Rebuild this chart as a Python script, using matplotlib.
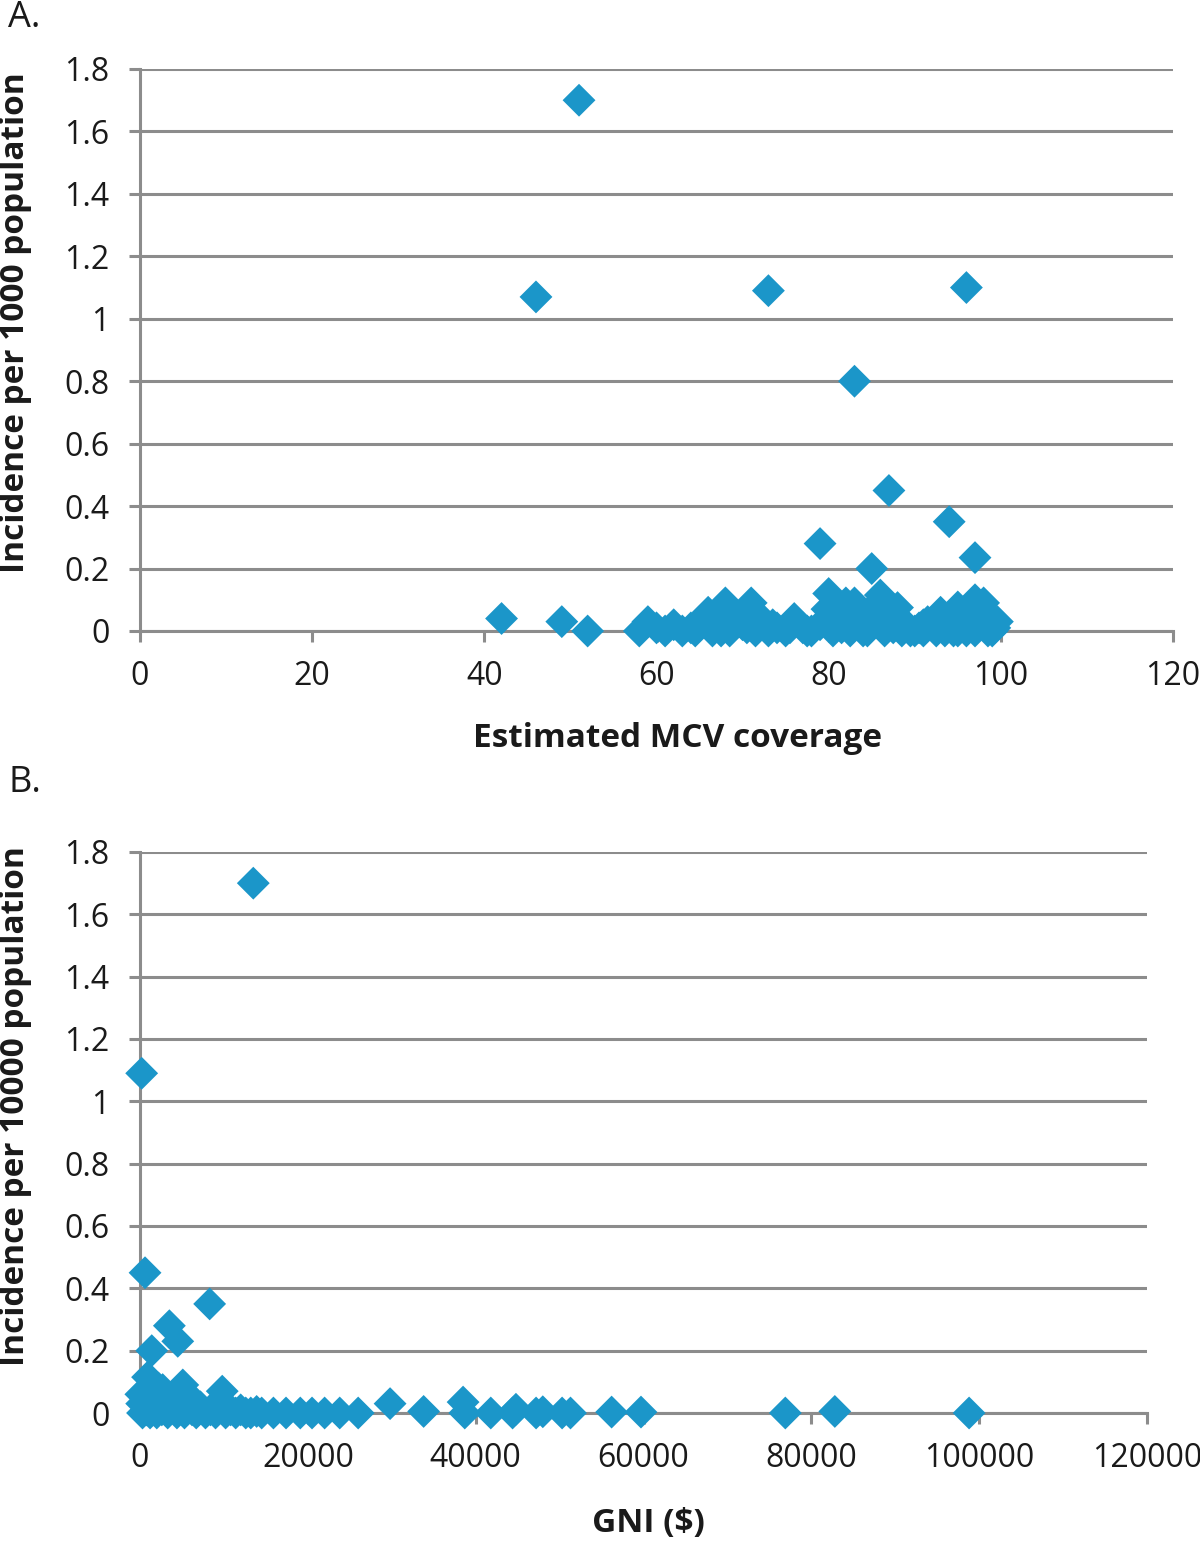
import numpy as np
import matplotlib
matplotlib.use("Agg")
import matplotlib.pyplot as plt

plt.rcParams['font.family'] = ['Open Sans', 'DejaVu Sans']

# panel A: estimated MCV coverage (%) vs incidence per 1000
mcv_cov = [51, 46, 73, 96, 83, 87, 94, 79, 97, 85, 42, 49, 52,
           58, 59, 60, 61, 62, 63, 64, 65, 66, 66.5, 67, 68, 68.5, 69, 70,
           71, 71.5, 72, 73, 73.5, 74, 75, 76, 77, 78, 79, 79.8, 80, 80.5,
           81, 82, 82.5, 83, 83.5, 84, 84.5, 85, 85.5, 86, 86.5, 87, 88,
           88.5, 89, 90, 90.5, 91, 91.5, 92, 92.5, 93, 93.5, 94, 94.5, 95,
           95.5, 96, 96.5, 97, 97.5, 98, 98.5, 99, 99.3, 99.6,
           80, 81.5, 84, 86, 87.5, 89.5, 91, 92.5, 94, 95, 96, 97, 98, 99,
           77.5, 75.5, 70.5, 67.5, 64.5]
mcv_inc = [1.70, 1.07, 1.09, 1.10, 0.80, 0.45, 0.35, 0.28, 0.235, 0.20, 0.04, 0.03, 0.0,
           0.0, 0.03, 0.01, 0.0, 0.02, 0.0, 0.01, 0.03, 0.06, 0.0, 0.02, 0.09, 0.0, 0.045, 0.02,
           0.09, 0.0, 0.045, 0.0, 0.02, 0.01, 0.0, 0.04, 0.01, 0.0, 0.02, 0.07, 0.12, 0.0,
           0.03, 0.09, 0.0, 0.09, 0.02, 0.05, 0.0, 0.07, 0.03, 0.115, 0.0, 0.04, 0.075,
           0.0, 0.02, 0.0, 0.01, 0.0, 0.03, 0.02, 0.0, 0.06, 0.0, 0.02, 0.0, 0.077,
           0.03, 0.0, 0.05, 0.10, 0.02, 0.09, 0.0, 0.04, 0.01, 0.03,
           0.02, 0.01, 0.0, 0.02, 0.01, 0.0, 0.02, 0.01, 0.04, 0.0, 0.03, 0.0, 0.05, 0.0,
           0.0, 0.01, 0.01, 0.0, 0.0]

# panel B: GNI ($) vs incidence per 10000
gni = [13500, 200, 600, 8300, 3500, 4500, 1400, 900, 9800, 5100, 2700, 100,
       300, 500, 800, 1000, 1200, 1500, 1800, 2000, 2300, 2600, 3000, 3300,
       3700, 4000, 4400, 4800, 5300, 5800, 6200, 6700, 7200, 7800, 8400, 9000,
       9600, 10200, 10800, 11400, 12000, 12600, 13200, 13900, 14500, 15900,
       17400, 19100, 20500, 22000, 23800, 26000, 29800, 33800, 38500, 38700,
       41800, 44400, 44800, 47200, 48000, 50300, 51300, 56200, 59700, 76900,
       82800, 98800, 200, 700, 1600, 2200, 3100, 4200, 6000, 7000]
gni_inc = [1.70, 1.09, 0.45, 0.35, 0.28, 0.23, 0.20, 0.115, 0.07, 0.09, 0.075, 0.06,
           0.0, 0.03, 0.01, 0.05, 0.0, 0.02, 0.04, 0.0, 0.03, 0.01, 0.05, 0.0,
           0.02, 0.04, 0.0, 0.02, 0.0, 0.03, 0.01, 0.0, 0.02, 0.0, 0.01, 0.0,
           0.02, 0.0, 0.01, 0.0, 0.01, 0.0, 0.0, 0.005, 0.0, 0.0,
           0.0, 0.0, 0.0, 0.0, 0.0, 0.0, 0.03, 0.005, 0.035, 0.0,
           0.0, 0.0, 0.012, 0.0, 0.004, 0.0, 0.0, 0.003, 0.003, 0.0,
           0.005, 0.0, 0.03, 0.07, 0.06, 0.08, 0.03, 0.06, 0.05, 0.01]

blue = '#1b96c9'
grey = '#8c8c8c'
txt = '#1a1a1a'

fig = plt.figure(figsize=(12, 15.41), dpi=100)
ax1 = fig.add_axes([140 / 1200, 1 - 631 / 1541, 1033 / 1200, 562 / 1541])
ax2 = fig.add_axes([140 / 1200, 1 - 1413 / 1541, 1007 / 1200, 561 / 1541])


def style(ax, xmax, xstep, xlabel, ylabel, lab_x, lab_y, ylab_x, ylab_y):
    ax.set_xlim(0, xmax)
    ax.set_ylim(0, 1.8)
    ax.set_xticks(np.arange(0, xmax + 1, xstep))
    ax.set_yticks(np.arange(0, 1.81, 0.2))
    ax.set_yticklabels(['0', '0.2', '0.4', '0.6', '0.8', '1', '1.2', '1.4', '1.6', '1.8'])
    ax.grid(axis='y', color=grey, lw=2.2, zorder=0)
    ax.set_axisbelow(True)
    for s in ['top', 'right']:
        ax.spines[s].set_visible(False)
    for s in ['left', 'bottom']:
        ax.spines[s].set_color(grey)
        ax.spines[s].set_linewidth(2.2)
    ax.tick_params(axis='both', colors=grey, width=2.2, length=8, labelsize=23,
                   labelcolor=txt)
    ax.tick_params(axis='y', pad=14)
    ax.tick_params(axis='x', pad=13)
    ax.set_xlabel(xlabel, fontsize=24, fontweight='bold', color=txt)
    ax.set_ylabel(ylabel, fontsize=24, fontweight='bold', color=txt)
    ax.xaxis.set_label_coords(lab_x, lab_y)
    ax.yaxis.set_label_coords(ylab_x, ylab_y)


ax1.scatter(mcv_cov, mcv_inc, marker='D', s=280, color=blue, edgecolors='none',
            zorder=3, clip_on=False)
style(ax1, 120, 20, 'Estimated MCV coverage', 'Incidence per 1000 population',
      0.52, -0.162, (32 - 140) / 1033, 0.548)

ax2.scatter(gni, gni_inc, marker='D', s=280, color=blue, edgecolors='none',
            zorder=3, clip_on=False)
style(ax2, 120000, 20000, 'GNI ($)', 'Incidence per 10000 population',
      0.505, -0.167, (32 - 140) / 1007, 0.547)

fig.text(8 / 1200, 1 - 18 / 1541, 'A.', fontsize=26, va='center', ha='left', color=txt)
fig.text(8 / 1200, 1 - 783 / 1541, 'B.', fontsize=26, va='center', ha='left', color=txt)

fig.savefig('out.png', dpi=100)
